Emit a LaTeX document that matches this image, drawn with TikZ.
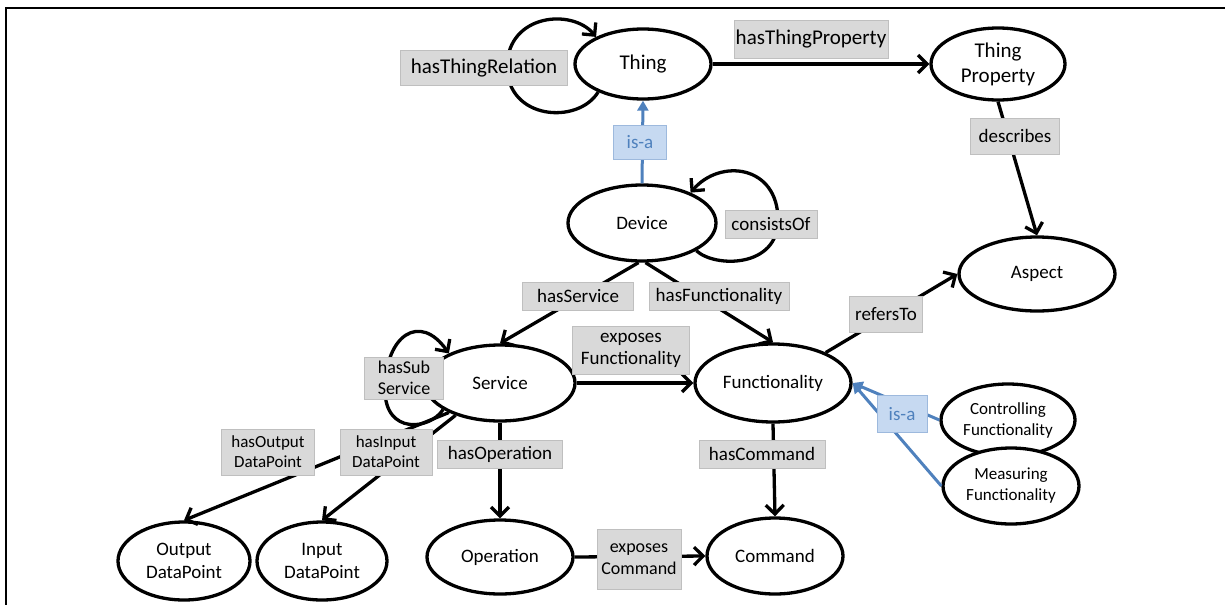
\documentclass[tikz,border=0pt]{standalone}
\usepackage{fontspec}
\setmainfont{Carlito}
\usetikzlibrary{shapes.geometric,arrows.meta}
\definecolor{lblgray}{HTML}{D9D9D9}
\definecolor{lblborder}{HTML}{BFBFBF}
\definecolor{isablue}{HTML}{4F81BD}
\definecolor{isafill}{HTML}{C6D9F1}
\definecolor{isaborder}{HTML}{9DB9DD}
\newcommand\fsz[2]{\fontsize{#1pt}{#2pt}\selectfont}

\begin{document}
\begin{tikzpicture}[x=1pt,y=-1pt,
  concept/.style={ellipse, draw=black, line width=3.3pt, fill=white, inner sep=0pt,
    align=center, font=\fsz{19}{23}},
  rel/.style={draw=lblborder, line width=0.8pt, fill=lblgray, inner sep=0pt,
    align=center, font=\fsz{19}{22}},
  isalabel/.style={draw=isaborder, line width=0.8pt, fill=isafill, text=isablue,
    inner sep=0pt, font=\fsz{19}{22}},
  link/.style={draw=black, line width=3.3pt, -{Straight Barb[length=9pt,width=18pt]}},
  isalink/.style={draw=isablue, line width=3pt, -{Triangle[length=10pt,width=11pt]}},
]
\useasboundingbox (0,0) rectangle (1225,605);

% frame
\draw[line width=2pt] (1225,8) -- (6,8) -- (6,605);

% concepts
\node[concept, minimum width=136pt, minimum height=70pt, font=\fsz{21}{25}] (thing) at (643,64) {Thing};
\node[concept, minimum width=134pt, minimum height=72pt, font=\fsz{21}{25}] (tprop) at (998,64) {Thing\\Property};
\node[concept, minimum width=148pt, minimum height=76pt] (device) at (642,223) {Device};
\node[concept, minimum width=156pt, minimum height=74pt] (aspect) at (1037,274) {Aspect};
\node[concept, minimum width=150pt, minimum height=76pt] (service) at (500,383) {Service};
\node[concept, minimum width=156pt, minimum height=78pt] (func) at (773,383) {Functionality};
\node[concept, minimum width=134pt, minimum height=72pt, font=\fsz{17}{21}] (ctrl) at (1008,420) {Controlling\\Functionality};
\node[concept, minimum width=136pt, minimum height=76pt, font=\fsz{17}{21}] (meas) at (1011,486) {Measuring\\Functionality};
\node[concept, minimum width=132pt, minimum height=78pt] (outdp) at (184,561) {Output\\DataPoint};
\node[concept, minimum width=130pt, minimum height=78pt] (indp) at (322,561) {Input\\DataPoint};
\node[concept, minimum width=146pt, minimum height=74pt] (oper) at (500,557) {Operation};
\node[concept, minimum width=136pt, minimum height=76pt] (cmd) at (775,556) {Command};

% relations
\draw[link] (thing.212) .. controls (578,125) and (507,120) .. (507,66)
  .. controls (508,14) and (572,8) .. (thing.150);
\draw[link] (thing.east) -- (tprop.west);
\draw[link] (tprop.south) -- (aspect.north);
\draw[isalink] (device.north) -- (thing.south);
\draw[link] (device.-27) .. controls (715,268) and (778,268) .. (778,220)
  .. controls (778,165) and (720,158) .. (device.32);
\draw[link] (device.-95) -- (service.north);
\draw[link] (device.-85) -- (func.north);
\draw[link] (service.east) -- (func.west);
\draw[link] (service.205) .. controls (430,430) and (385,435) .. (385,390)
  .. controls (385,335) and (420,312) .. (service.150);
\draw[link] (service.210) -- (outdp.north);
\draw[link] (service.216) -- (indp.north);
\draw[link] (service.south) -- (oper.north);
\draw[link] (func.south) -- (cmd.north);
\draw[link] (oper.east) -- (cmd.west);
\draw[link] (func.30) -- (aspect.west);
\draw[isalink] (ctrl.west) -- (func.east);
\draw[isalink] (meas.west) -- (func.east);

% relation labels
\node[rel, minimum width=167pt, minimum height=35pt, font=\fsz{21}{25}] (lThingRel) at (484,68) {hasThingRelation};
\node[rel, minimum width=154pt, minimum height=38pt, font=\fsz{21}{25}] (lThingProp) at (811,39) {hasThingProperty};
\node[rel, minimum width=89pt, minimum height=36pt] (lDescribes) at (1015,136) {describes};
\node[isalabel, minimum width=53pt, minimum height=34pt] (lIsaTop) at (640,142) {is-a};
\node[rel, minimum width=92pt, minimum height=28pt] (lConsists) at (771,224) {consistsOf};
\node[rel, minimum width=111pt, minimum height=28pt] (lHasService) at (578,296) {hasService};
\node[rel, minimum width=140pt, minimum height=28pt] (lHasFunc) at (719,296) {hasFunctionality};
\node[rel, minimum width=73pt, minimum height=36pt] (lRefers) at (886,314) {refersTo};
\node[rel, minimum width=117pt, minimum height=48pt, font=\fsz{19}{22}] (lExpFunc) at (631,350) {exposes\\Functionality};
\node[rel, minimum width=79pt, minimum height=42pt, font=\fsz{18}{21}] (lSub) at (404,378) {hasSub\\Service};
\node[rel, minimum width=93pt, minimum height=46pt, font=\fsz{17}{20}] (lOut) at (268,452) {hasOutput\\DataPoint};
\node[rel, minimum width=92pt, minimum height=46pt, font=\fsz{17}{20}] (lIn) at (386,452) {hasInput\\DataPoint};
\node[rel, minimum width=125pt, minimum height=28pt] (lOper) at (500,454) {hasOperation};
\node[rel, minimum width=126pt, minimum height=28pt] (lCmd) at (762,454) {hasCommand};
\node[rel, minimum width=84pt, minimum height=60pt, font=\fsz{18}{22}] (lExpCmd) at (639,559) {exposes\\Command};
\node[isalabel, minimum width=50pt, minimum height=37pt] (lIsaLow) at (902,414) {is-a};
\end{tikzpicture}
\end{document}
